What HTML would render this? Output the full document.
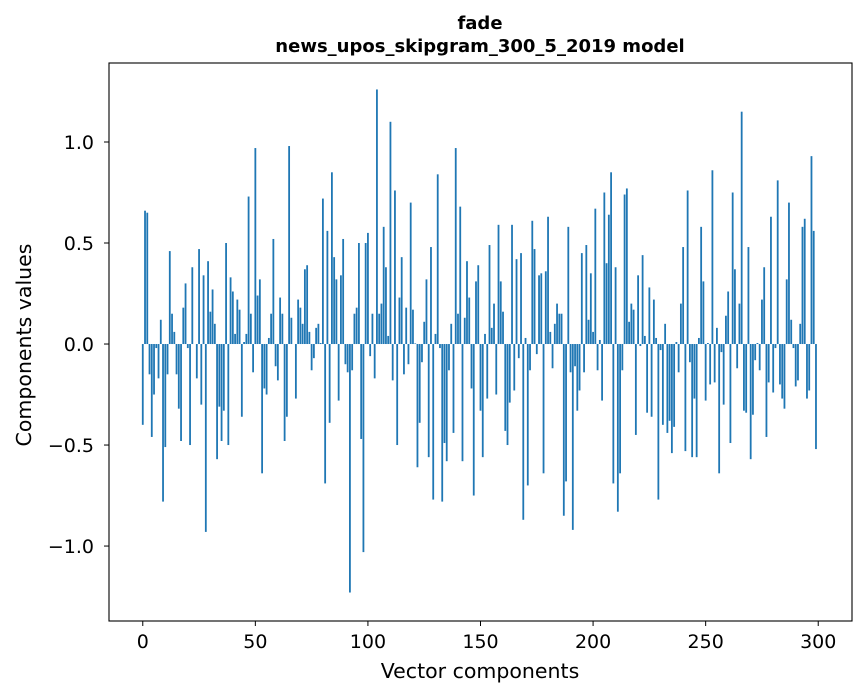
<!DOCTYPE html>
<html><head><meta charset="utf-8"><style>
html,body{margin:0;padding:0;background:#fff;}
svg{display:block;font-family:"DejaVu Sans","Liberation Sans",sans-serif;}
</style></head><body>
<svg id="chart" width="867" height="696" viewBox="0 0 867 696" xmlns="http://www.w3.org/2000/svg">
<rect x="0" y="0" width="867" height="696" fill="#fff"/>
<text x="480" y="29" text-anchor="middle" font-size="18" font-weight="bold">fade</text>
<text x="480" y="52" text-anchor="middle" font-size="18" font-weight="bold">news_upos_skipgram_300_5_2019 model</text>
<g id="bars"></g>
<g id="axes"></g>
<text x="480" y="678" text-anchor="middle" font-size="20.5">Vector components</text>
<text transform="translate(31,345) rotate(-90)" text-anchor="middle" font-size="20.5">Components values</text>
</svg>
<script>
const values = [-0.40,0.66,0.65,-0.15,-0.46,-0.25,-0.02,-0.17,0.12,-0.78,-0.51,-0.15,0.46,0.15,0.06,-0.15,-0.32,-0.48,0.18,0.30,-0.02,-0.50,0.38,0.0,-0.17,0.47,-0.30,0.34,-0.93,0.41,0.16,0.27,0.10,-0.57,-0.31,-0.48,-0.33,0.50,-0.50,0.33,0.26,0.05,0.22,0.17,-0.36,0.01,0.05,0.73,0.15,-0.14,0.97,0.24,0.32,-0.64,-0.22,-0.25,0.03,0.15,0.52,-0.11,-0.18,0.23,0.15,-0.48,-0.36,0.98,0.13,0.0,-0.27,0.22,0.18,0.10,0.37,0.39,
0.06,-0.13,-0.07,0.08,0.10,0.005,0.72,-0.69,0.56,-0.39,0.85,0.43,0.32,-0.28,0.34,0.52,-0.10,-0.14,-1.23,-0.13,0.15,0.18,0.50,-0.47,-1.03,0.50,0.55,-0.06,0.15,-0.17,1.26,0.15,0.20,0.58,0.38,0.04,1.10,-0.18,0.76,-0.50,0.23,0.43,-0.15,0.18,-0.10,0.70,0.17,0.003,-0.61,-0.39,-0.09,0.11,0.32,-0.56,0.48,-0.77,0.05,0.84,-0.02,-0.78,-0.49,-0.58,-0.13,0.10,-0.44,0.97,0.15,0.68,-0.58,0.13,0.41,0.23,-0.22,
-0.75,0.31,0.39,-0.33,-0.56,0.05,-0.27,0.49,0.08,0.20,-0.25,0.59,0.31,0.16,-0.43,-0.50,-0.29,0.59,-0.23,0.42,-0.07,0.45,-0.87,0.03,-0.70,-0.13,0.61,0.47,-0.05,0.34,0.35,-0.64,0.36,0.63,0.06,-0.12,0.10,0.20,0.15,0.15,-0.85,-0.68,0.58,-0.14,-0.92,-0.11,-0.33,-0.23,0.45,-0.14,0.49,0.12,0.35,0.06,0.67,-0.13,0.02,-0.28,0.75,0.40,0.64,0.85,-0.69,0.38,-0.83,-0.64,-0.13,0.74,0.77,0.11,0.20,0.17,-0.45,0.34,-0.01,0.44,0.04,-0.34,
0.28,-0.36,0.22,0.03,-0.77,-0.03,-0.40,0.10,-0.44,-0.38,-0.54,-0.41,0.01,-0.14,0.20,0.48,-0.53,0.76,-0.09,-0.56,-0.27,-0.56,0.03,0.58,0.31,-0.28,0.005,-0.20,0.86,-0.19,0.08,-0.64,-0.04,-0.30,0.14,0.26,-0.49,0.75,0.37,-0.12,0.20,1.15,-0.33,-0.34,0.48,-0.57,-0.35,-0.08,0.005,-0.13,0.22,0.38,-0.46,-0.19,0.63,-0.24,-0.02,0.81,-0.20,-0.27,-0.32,0.32,0.70,0.12,-0.02,-0.21,-0.18,0.10,0.58,0.62,-0.27,-0.23,0.93,0.56,-0.52];
const xTicks = [0,50,100,150,200,250,300];
const yTicks = [-1.0,-0.5,0.0,0.5,1.0];
const yTickLabels = ["\u22121.0","\u22120.5","0.0","0.5","1.0"];

const NS="http://www.w3.org/2000/svg";
const L=109,R=852,T=63,B=621;
const xMin=-15,xMax=315,yMin=-1.371,yMax=1.391;
function xs(v){return L+(v-xMin)/(xMax-xMin)*(R-L);}
function ys(v){return B-(v-yMin)/(yMax-yMin)*(B-T);}
const bars=document.getElementById('bars');
values.forEach((v,i)=>{
  const r=document.createElementNS(NS,'rect');
  const x0=xs(i-0.4),x1=xs(i+0.4);
  const y0=ys(Math.max(v,0)),y1=ys(Math.min(v,0));
  r.setAttribute('x',x0);r.setAttribute('width',x1-x0);
  r.setAttribute('y',y0);r.setAttribute('height',Math.max(y1-y0,0.01));
  r.setAttribute('fill','#1f77b4');
  
  
  bars.appendChild(r);
});
const ax=document.getElementById('axes');
const frame=document.createElementNS(NS,'rect');
frame.setAttribute('x',L);frame.setAttribute('y',T);frame.setAttribute('width',R-L);frame.setAttribute('height',B-T);
frame.setAttribute('fill','none');frame.setAttribute('stroke','#000');frame.setAttribute('stroke-width','1.1');


ax.appendChild(frame);
xTicks.forEach(t=>{
  const x=xs(t);
  const l=document.createElementNS(NS,'line');
  l.setAttribute('x1',x);l.setAttribute('x2',x);l.setAttribute('y1',B);l.setAttribute('y2',B+5);l.setAttribute('stroke','#000');
  
  
  ax.appendChild(l);
  const tx=document.createElementNS(NS,'text');
  tx.setAttribute('x',x);tx.setAttribute('y',B+27);tx.setAttribute('text-anchor','middle');tx.setAttribute('font-size','19');
  tx.textContent=t;
  
  
  ax.appendChild(tx);
});
yTicks.forEach((t,i)=>{
  const y=ys(t);
  const l=document.createElementNS(NS,'line');
  l.setAttribute('x1',L-5);l.setAttribute('x2',L);l.setAttribute('y1',y);l.setAttribute('y2',y);l.setAttribute('stroke','#000');
  
  
  ax.appendChild(l);
  const tx=document.createElementNS(NS,'text');
  tx.setAttribute('x',L-15);tx.setAttribute('y',y+7);tx.setAttribute('text-anchor','end');tx.setAttribute('font-size','19');
  tx.textContent=yTickLabels[i];
  
  
  ax.appendChild(tx);
});
</script>
</body></html>
